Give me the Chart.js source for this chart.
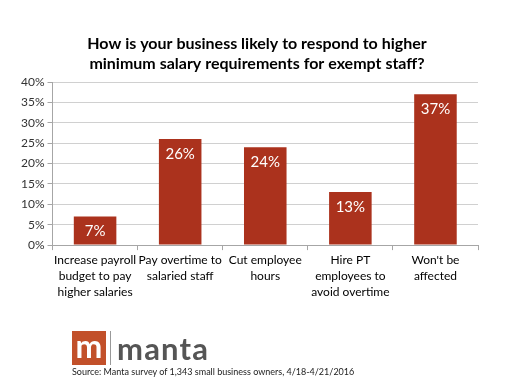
<!DOCTYPE html>
<html>
<head>
<meta charset="utf-8">
<script src="https://cdn.jsdelivr.net/npm/chart.js@4/dist/chart.umd.min.js"></script>
<style>
  html, body { margin: 0; padding: 0; background: #fff; }
  #wrap { position: relative; width: 512px; height: 384px; }
  #logo { position: absolute; left: 72px; top: 331px; height: 34px; display: flex; align-items: center; font-family: Lato, 'Open Sans', sans-serif; }
  #logo .box { width: 34px; height: 34px; background: #c2502a; color: #fff; font-weight: 700; font-size: 32px; line-height: 30px; text-align: center; }
  #logo .sep { width: 1px; height: 34px; background: #999; margin: 0 6px 0 4px; }
  #logo .word { color: #555; font-weight: 700; font-size: 31px; line-height: 30px; letter-spacing: 1.2px; }
  #source { position: absolute; left: 72px; top: 366px; font-family: Lato, 'Open Sans', sans-serif; font-size: 9px; color: #222; }
</style>
</head>
<body>
<div id="wrap">
  <canvas id="chart" width="512" height="384"></canvas>
  <div id="logo"><div class="box">m</div><div class="sep"></div><div class="word">manta</div></div>
  <div id="source">Source: Manta survey of 1,343 small business owners, 4/18-4/21/2016</div>
</div>
<script>
const categories = [
    ['Increase payroll', 'budget to pay', 'higher salaries'],
    ['Pay overtime to', 'salaried staff'],
    ['Cut employee', 'hours'],
    ['Hire PT', 'employees to', 'avoid overtime'],
    ["Won't be", 'affected']
];
const values = [7, 26, 24, 13, 37];
const yTicks = [0, 5, 10, 15, 20, 25, 30, 35, 40];
const titleLines = ['How is your business likely to respond to higher', 'minimum salary requirements for exempt staff?'];

const font = 'Lato, "Open Sans", sans-serif';

// title centred on the whole canvas, not on the padded box
const pageTitle = {
    id: 'pageTitle',
    afterDraw(chart) {
        const ctx = chart.ctx;
        ctx.save();
        ctx.fillStyle = '#000';
        ctx.font = 'bold 16px ' + font;
        ctx.textAlign = 'center';
        ctx.textBaseline = 'middle';
        titleLines.forEach((line, i) => ctx.fillText(line, chart.width / 2 + 1, 44 + i * 20));
        ctx.restore();
    }
};

// white value labels inside the top of each bar
const valueLabels = {
    id: 'valueLabels',
    afterDatasetsDraw(chart) {
        const ctx = chart.ctx;
        const meta = chart.getDatasetMeta(0);
        ctx.save();
        ctx.fillStyle = '#fff';
        ctx.font = '15px ' + font;
        ctx.textAlign = 'center';
        ctx.textBaseline = 'middle';
        meta.data.forEach((bar, i) => {
            ctx.fillText(values[i] + '%', bar.x, bar.y + 15);
        });
        ctx.restore();
    }
};

new Chart(document.getElementById('chart'), {
    type: 'bar',
    data: {
        labels: categories,
        datasets: [{ data: values, backgroundColor: '#ab321d', barPercentage: 0.5, categoryPercentage: 1 }]
    },
    options: {
        responsive: false,
        animation: false,
        layout: { padding: { left: 18, right: 34, top: 82, bottom: 82 } },
        plugins: {
            legend: { display: false },
            tooltip: { enabled: false },
            title: { display: false }
        },
        scales: {
            x: {
                grid: { drawOnChartArea: false, drawTicks: true, tickLength: 5, color: '#a6a6a6', offset: true },
                border: { color: '#a6a6a6' },
                ticks: { color: '#000', font: { family: font, size: 12, lineHeight: 1.33 }, maxRotation: 0, autoSkip: false, padding: 2 }
            },
            y: {
                min: 0, max: 40,
                afterBuildTicks: axis => { axis.ticks = yTicks.map(v => ({ value: v })); },
                grid: { color: '#d0d0d0', tickLength: 5, tickColor: '#a6a6a6' },
                border: { color: '#a6a6a6' },
                ticks: { color: '#333', font: { family: font, size: 12 }, padding: 3, callback: v => v + '%' }
            }
        }
    },
    plugins: [valueLabels, pageTitle]
});
</script>
</body>
</html>
